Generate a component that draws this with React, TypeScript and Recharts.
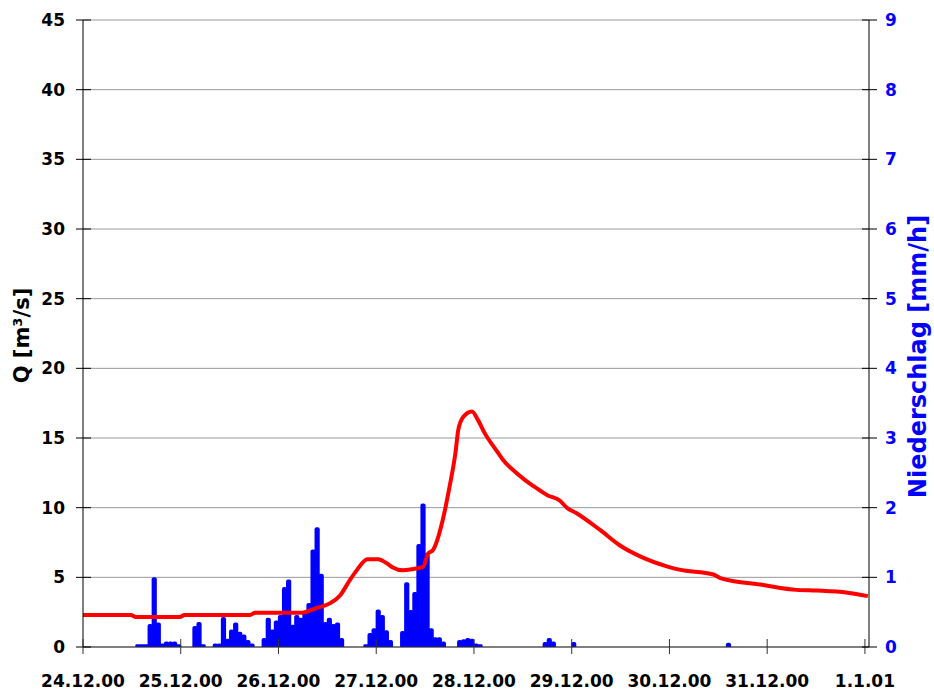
import React from "react";
import { ComposedChart, Bar, Line, XAxis, YAxis, CartesianGrid } from "recharts";

// x axis: days since 24.12.00 00:00
const DAY_LABELS = ["24.12.00", "25.12.00", "26.12.00", "27.12.00", "28.12.00", "29.12.00", "30.12.00", "31.12.00", "1.1.01"];
const DAY_TICKS = [0, 1, 2, 3, 4, 5, 6, 7, 8];
const HOURS_SHOWN = 193;

const Q_TICKS = [0, 5, 10, 15, 20, 25, 30, 35, 40, 45];
const RAIN_TICKS = [0, 1, 2, 3, 4, 5, 6, 7, 8, 9];

// discharge Q [m³/s]
const Q_TIME = [
  0, 0.49, 0.54, 0.99, 1.04, 1.71, 1.76, 2.22, 2.39, 2.53, 2.63, 2.73, 2.8, 2.91, 3.02, 3.11, 3.17, 3.27,
  3.38, 3.48, 3.53, 3.58, 3.68, 3.75, 3.81, 3.84, 3.89, 3.98, 4.04, 4.11, 4.24, 4.3, 4.4, 4.52, 4.64, 4.75,
  4.88, 4.95, 5.05, 5.29, 5.49, 5.7, 5.99, 6.1, 6.45, 6.52, 6.96, 7.3, 7.51, 7.82, 8.03,
];
const Q_VALUE = [
  2.3, 2.3, 2.15, 2.15, 2.3, 2.3, 2.45, 2.45, 2.8, 3.15, 3.7, 4.8, 5.5, 6.3, 6.3, 6.0, 5.7, 5.5,
  5.6, 5.75, 6.7, 6.95, 9.1, 11.5, 13.9, 15.6, 16.5, 16.9, 16.3, 15.35, 14.0, 13.4, 12.7, 12.0, 11.4, 10.9,
  10.5, 10.0, 9.6, 8.4, 7.3, 6.5, 5.75, 5.55, 5.2, 4.95, 4.45, 4.1, 4.05, 3.9, 3.65,
];

// hourly precipitation [mm/h], hour index since 24.12.00 00:00
const RAIN_HOUR = [
  13, 14, 15, 16, 17, 18, 19, 20, 21, 22, 23,
  27, 28, 29,
  32, 33, 34, 35, 36, 37, 38, 39, 40, 41,
  44, 45, 46, 47, 48, 49, 50, 51, 52, 53, 54, 55, 56, 57, 58, 59, 60, 61, 62, 63,
  69, 70, 71, 72, 73, 74, 75,
  78, 79, 80, 81, 82, 83, 84, 85, 86, 87, 88,
  92, 93, 94, 95, 96, 97,
  113, 114, 115,
  120,
  158,
];
const RAIN_MM = [
  0.04, 0.04, 0.04, 0.33, 1.0, 0.35, 0.05, 0.08, 0.08, 0.08, 0.04,
  0.3, 0.36, 0.04,
  0.05, 0.05, 0.43, 0.12, 0.25, 0.35, 0.22, 0.18, 0.1, 0.05,
  0.13, 0.42, 0.25, 0.38, 0.46, 0.86, 0.97, 0.32, 0.46, 0.42, 0.5, 0.63, 1.4, 1.72, 1.05, 0.36, 0.42, 0.33, 0.35, 0.13,
  0.04, 0.2, 0.27, 0.54, 0.46, 0.24, 0.1,
  0.23, 0.93, 0.53, 0.79, 1.48, 2.06, 1.35, 0.27, 0.14, 0.14, 0.08,
  0.1, 0.11, 0.13, 0.12, 0.05, 0.04,
  0.07, 0.13, 0.08,
  0.07,
  0.06,
];

const qData = Q_TIME.map((t, i) => ({ t, q: Q_VALUE[i] }));
const rainData = Array.from({ length: HOURS_SHOWN }, (_, h) => {
  const k = RAIN_HOUR.indexOf(h);
  return { hour: h, rain: k >= 0 ? RAIN_MM[k] : null };
});

const FONT = "'DejaVu Sans', Verdana, sans-serif";
const X_TICK_SIZE = 7;
const X_TICK_MARGIN = 21;
const L_TICK_SIZE = 7;
const L_TICK_MARGIN = 11;
const R_TICK_SIZE = 8;
const R_TICK_MARGIN = 8;

const XTick = (props: any) => {
  const { x, y, payload } = props;
  const axisY = y - X_TICK_SIZE - X_TICK_MARGIN;
  return (
    <g>
      <line x1={x} x2={x} y1={axisY - 8} y2={axisY} stroke="#333" />
      <text x={x} y={y} dy="0.71em" textAnchor="middle" fontFamily={FONT} fontWeight="bold" fontSize={17} fill="#000">
        {DAY_LABELS[payload.value]}
      </text>
    </g>
  );
};

const LeftTick = (props: any) => {
  const { x, y, payload } = props;
  const axisX = x + L_TICK_SIZE + L_TICK_MARGIN;
  return (
    <g>
      <line x1={axisX} x2={axisX + 8} y1={y} y2={y} stroke="#000" />
      <text x={x} y={y} dy="0.36em" textAnchor="end" fontFamily={FONT} fontWeight="bold" fontSize={17} fill="#000">
        {payload.value}
      </text>
    </g>
  );
};

const RightTick = (props: any) => {
  const { x, y, payload } = props;
  const axisX = x - R_TICK_SIZE - R_TICK_MARGIN;
  return (
    <g>
      <line x1={axisX - 7} x2={axisX} y1={y} y2={y} stroke="#000" />
      <text x={x} y={y} dy="0.36em" textAnchor="start" fontFamily={FONT} fontWeight="bold" fontSize={17} fill="#0000FF">
        {payload.value}
      </text>
    </g>
  );
};

const LeftTitle = (props: any) => {
  const vb = props.viewBox;
  const cx = vb.x + 14;
  const cy = vb.y + vb.height / 2 + 2;
  return (
    <text x={cx} y={cy} transform={`rotate(-90 ${cx} ${cy})`} textAnchor="middle" dominantBaseline="central"
      fontFamily={FONT} fontWeight="bold" fontSize={21} fill="#000">
      Q [m³/s]
    </text>
  );
};

const RightTitle = (props: any) => {
  const vb = props.viewBox;
  const cx = vb.x + 49;
  const cy = vb.y + vb.height / 2 + 23;
  return (
    <text x={cx} y={cy} transform={`rotate(-90 ${cx} ${cy})`} textAnchor="middle" dominantBaseline="central"
      fontFamily={FONT} fontWeight="bold" fontSize={24} fill="#0000FF">
      Niederschlag [mm/h]
    </text>
  );
};

// rain bars drawn a little wider than the hour band, with rounded tops like the original
const RainBar = (props: any) => {
  const { x, y, width, height } = props;
  if (!height || height <= 0) return null;
  const w = width + 1.2;
  const left = x - 0.6;
  const r = Math.min(2, height / 2, w / 2);
  const d = `M${left},${y + height} L${left},${y + r} Q${left},${y} ${left + r},${y} L${left + w - r},${y} Q${left + w},${y} ${left + w},${y + r} L${left + w},${y + height} Z`;
  return <path d={d} fill="#0000FF" />;
};

export default function App() {
  return (
    <div style={{ width: 934, height: 693, background: "#fff" }}>
      <style>{"body{margin:0}"}</style>
      <ComposedChart
        width={934}
        height={693}
        data={rainData}
        margin={{ top: 20, right: 8, bottom: 0, left: 8 }}
        barCategoryGap="0%"
        barGap={0}
      >
        <CartesianGrid xAxisId="t" yAxisId="q" vertical={false} stroke="#999" horizontalValues={Q_TICKS} />
        <XAxis
          xAxisId="t"
          dataKey="t"
          type="number"
          domain={[0, HOURS_SHOWN / 24]}
          ticks={DAY_TICKS}
          allowDataOverflow
          height={46}
          tickSize={X_TICK_SIZE}
          tickMargin={X_TICK_MARGIN}
          tickLine={{ stroke: "#333" }}
          axisLine={{ stroke: "#333" }}
          tick={<XTick />}
        />
        <XAxis xAxisId="h" dataKey="hour" type="category" hide height={0} />
        <YAxis
          yAxisId="q"
          domain={[0, 45]}
          ticks={Q_TICKS}
          width={75}
          tickSize={L_TICK_SIZE}
          tickMargin={L_TICK_MARGIN}
          tickLine={{ stroke: "#000" }}
          axisLine={{ stroke: "#000" }}
          tick={<LeftTick />}
          label={{ content: <LeftTitle /> }}
        />
        <YAxis
          yAxisId="r"
          orientation="right"
          domain={[0, 9]}
          ticks={RAIN_TICKS}
          width={57}
          tickSize={R_TICK_SIZE}
          tickMargin={R_TICK_MARGIN}
          tickLine={{ stroke: "#000" }}
          axisLine={{ stroke: "#000" }}
          tick={<RightTick />}
          label={{ content: <RightTitle /> }}
        />
        <Bar xAxisId="h" yAxisId="r" dataKey="rain" fill="#0000FF" shape={<RainBar />} isAnimationActive={false} />
        <Line
          xAxisId="t"
          yAxisId="q"
          data={qData}
          dataKey="q"
          type="monotone"
          stroke="#FF0000"
          strokeWidth={4}
          dot={false}
          activeDot={false}
          isAnimationActive={false}
        />
      </ComposedChart>
    </div>
  );
}
